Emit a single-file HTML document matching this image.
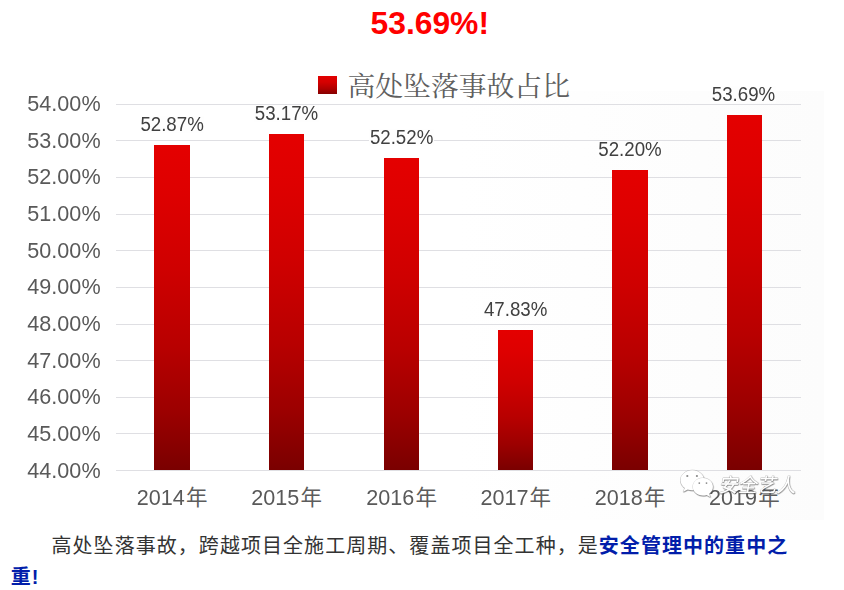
<!DOCTYPE html>
<html lang="zh-CN">
<head>
<meta charset="utf-8">
<title>高处坠落事故占比</title>
<style>
html,body{margin:0;padding:0;background:#fff;}
body{width:844px;height:590px;overflow:hidden;position:relative;font-family:"Liberation Sans",sans-serif;}
#page{position:absolute;left:0;top:0;width:844px;height:590px;overflow:hidden;background:#fff;}
.grid{position:absolute;left:116.0px;width:684.7px;height:1px;background:#dfdfe3;}
.ylab,.dl,.xl{filter:grayscale(1);}
.ylab{position:absolute;left:0;width:100.6px;transform:scaleY(1.04);transform-origin:50% 50%;text-align:right;font-size:21.6px;line-height:24px;height:24px;color:#595959;white-space:nowrap;}
.bar{position:absolute;width:35.5px;background:linear-gradient(to bottom,#e40000 0%,#de0000 15%,#cf0000 38%,#b80000 62%,#9c0000 82%,#7a0000 100%);}
.dl{position:absolute;width:64.4px;transform:scaleY(1.06);transform-origin:50% 85%;text-align:center;font-size:18.7px;line-height:16px;height:16px;color:#404040;background:#fefefe;white-space:nowrap;}
.xl{position:absolute;transform:scaleY(1.04);transform-origin:0 78%;font-size:21.6px;line-height:24px;height:24px;color:#595959;white-space:nowrap;}
.legend-mark{position:absolute;left:318.2px;top:76.1px;width:18.6px;height:18.4px;background:linear-gradient(to bottom,#e20000 0%,#d40000 35%,#b00000 70%,#860000 100%);}
svg.ov{position:absolute;left:0;top:0;width:844px;height:590px;overflow:visible;}
</style>
</head>
<body>
<div id="page">

<div style="position:absolute;left:10px;top:91px;width:814px;height:428.6px;background:linear-gradient(to right,#fff 0%,#fff 55%,#fcfcfc 100%)"></div>
<div class="grid" style="top:104px"></div>
<div class="grid" style="top:140px"></div>
<div class="grid" style="top:177px"></div>
<div class="grid" style="top:214px"></div>
<div class="grid" style="top:250px"></div>
<div class="grid" style="top:287px"></div>
<div class="grid" style="top:324px"></div>
<div class="grid" style="top:360px"></div>
<div class="grid" style="top:397px"></div>
<div class="grid" style="top:433px"></div>
<div class="grid" style="top:470px"></div>
<div class="ylab" style="top:92.20px">54.00%</div>
<div class="ylab" style="top:128.84px">53.00%</div>
<div class="ylab" style="top:165.48px">52.00%</div>
<div class="ylab" style="top:202.12px">51.00%</div>
<div class="ylab" style="top:238.76px">50.00%</div>
<div class="ylab" style="top:275.40px">49.00%</div>
<div class="ylab" style="top:312.04px">48.00%</div>
<div class="ylab" style="top:348.68px">47.00%</div>
<div class="ylab" style="top:385.32px">46.00%</div>
<div class="ylab" style="top:421.96px">45.00%</div>
<div class="ylab" style="top:458.60px">44.00%</div>
<div class="bar" style="left:154.35px;top:145.40px;height:324.60px"></div>
<div class="bar" style="left:268.75px;top:134.41px;height:335.59px"></div>
<div class="bar" style="left:383.85px;top:158.23px;height:311.77px"></div>
<div class="bar" style="left:497.90px;top:330.07px;height:139.93px"></div>
<div class="bar" style="left:612.25px;top:169.95px;height:300.05px"></div>
<div class="bar" style="left:726.55px;top:115.36px;height:354.64px"></div>
<div class="dl" style="left:139.90px;top:117.32px">52.87%</div>
<div class="dl" style="left:254.30px;top:106.33px">53.17%</div>
<div class="dl" style="left:369.40px;top:130.15px">52.52%</div>
<div class="dl" style="left:483.45px;top:301.99px">47.83%</div>
<div class="dl" style="left:597.80px;top:141.87px">52.20%</div>
<div class="dl" style="left:711.30px;top:87.28px">53.69%</div>
<div class="legend-mark"></div>
<div class="xl" style="left:136.85px;top:485.72px">2014</div>
<div class="xl" style="left:251.25px;top:485.72px">2015</div>
<div class="xl" style="left:366.35px;top:485.72px">2016</div>
<div class="xl" style="left:480.40px;top:485.72px">2017</div>
<div class="xl" style="left:594.75px;top:485.72px">2018</div>
<div class="xl" style="left:709.05px;top:485.72px">2019</div>
<svg class="ov" viewBox="0 0 844 590">
<defs><filter id="ws" x="-10%" y="-20%" width="120%" height="150%"><feDropShadow dx="0.35" dy="0.7" stdDeviation="0.25" flood-color="#444" flood-opacity="0.75"/></filter></defs>
<text x="370.5" y="33.9" font-family='"Liberation Sans", "Noto Sans CJK SC", sans-serif' font-size="30.5" font-weight="bold" fill="#ff0000" textLength="118.5" lengthAdjust="spacingAndGlyphs">53.69%!</text>
<text x="347.5" y="96" font-family='"Liberation Serif", "Noto Serif CJK SC", serif' font-size="27.7" fill="#5f5f5f" textLength="222.5" lengthAdjust="spacingAndGlyphs">高处坠落事故占比</text>
<g font-family='"Liberation Sans", "Noto Sans CJK SC", sans-serif' font-size="21.5" fill="#5c5c5c">
<text x="186" y="505">年</text>
<text x="300.4" y="505">年</text>
<text x="415.5" y="505">年</text>
<text x="529.5" y="505">年</text>
<text x="643.9" y="505">年</text>
<text x="758.2" y="505">年</text>
</g>
<g aria-label="安全艺人" fill="#fff" stroke="#777" stroke-opacity="0.4" stroke-width="0.8" stroke-linejoin="round" paint-order="stroke" filter="url(#ws)">
<path d="M692.3 470.2c-6.5 0-11.800 4.500-11.800 10 0 3.100 1.700 5.900 4.300 7.700l-1.500 3.800 4.400-2.300c1.400 0.500 3 0.800 4.600 0.800 6.500 0 11.800-4.500 11.800-10s-5.300-10-11.800-10z"/>
<path d="M702.9 478c-5.500 0-10 3.900-10 8.800s4.500 8.800 10 8.800c1.300 0 2.500-0.200 3.700-0.600l3.700 2-1.200-3.300c2.300-1.600 3.800-4.100 3.800-6.900 0-4.900-4.500-8.800-10-8.800z"/>
<text transform="translate(718.5,491.8) skewX(-11)" x="0" y="0" font-family='"Liberation Sans", "Noto Sans CJK SC", sans-serif' font-size="19.3" textLength="77" lengthAdjust="spacingAndGlyphs">安全艺人</text>
</g>
<g fill="#8a8a8a"><circle cx="687.3" cy="476" r="1.1"/><circle cx="696.9" cy="476" r="1.1"/><circle cx="699.3" cy="483.1" r="0.9"/><circle cx="706.5" cy="483.1" r="0.9"/></g>
<g font-family='"Liberation Sans", "Noto Sans CJK SC", sans-serif' font-size="20" letter-spacing="1.05">
<text x="51.5" y="552.5" fill="#333">高处坠落事故，跨越项目全施工周期、覆盖项目全工种，是<tspan fill="#021eaa" font-weight="bold">安全管理中的重中之</tspan></text>
<text x="10.8" y="584" fill="#021eaa" font-weight="bold">重!</text>
</g>
</svg>
</div>
</body>
</html>
